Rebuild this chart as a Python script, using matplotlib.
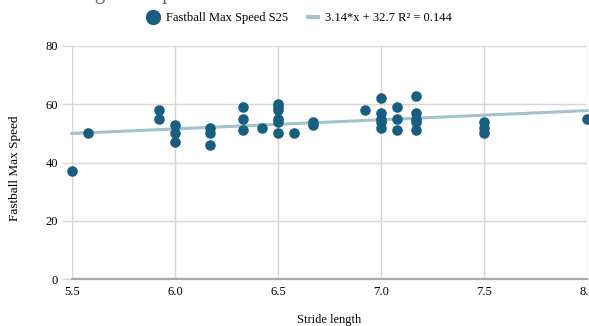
import matplotlib.pyplot as plt
from matplotlib.lines import Line2D
import numpy as np

plt.rcParams['font.family'] = ['Liberation Serif', 'DejaVu Serif']

# stride length (ft) and fastball max speed (mph)
stride = [5.5, 5.58, 5.92, 5.92, 6.0, 6.0, 6.0,
          6.17, 6.17, 6.17, 6.33, 6.33, 6.33, 6.42,
          6.5, 6.5, 6.5, 6.5, 6.5, 6.5, 6.58, 6.67, 6.67,
          6.92, 7.0, 7.0, 7.0, 7.0, 7.0,
          7.08, 7.08, 7.08, 7.17, 7.17, 7.17, 7.17, 7.17,
          7.5, 7.5, 7.5, 8.0]
speed = [37, 50, 58, 55, 53, 50, 47,
         52, 50, 46, 59, 55, 51, 52,
         60, 59, 58, 55, 54, 50, 50, 54, 53,
         58, 62, 57, 55, 54, 52,
         59, 55, 51, 63, 57, 55, 54, 51,
         54, 52, 50, 55]

slope, intercept = 3.14, 32.7
r2 = 0.144

DOT = '#185e80'
TREND = '#a3c1cf'

fig = plt.figure(figsize=(5.89, 3.26), dpi=100)
ax = fig.add_axes([72 / 589, 47 / 326, 515 / 589, 233 / 326])

xs = np.array([5.5, 8.0])
ax.plot(xs, slope * xs + intercept, color=TREND, lw=2.2, zorder=2, clip_on=False)
ax.scatter(stride, speed, s=58, color=DOT, zorder=3, clip_on=False, linewidths=0)

ax.set_xlim(5.5, 8.0)
ax.set_ylim(0, 80)
ax.set_xticks([5.5, 6.0, 6.5, 7.0, 7.5, 8.0])
ax.set_xticklabels(['5.5', '6.0', '6.5', '7.0', '7.5', '8.0'])
ax.set_yticks([0, 20, 40, 60, 80])

ax.grid(True, color='#d6d6d6', lw=1)
ax.set_axisbelow(True)
for side in ['top', 'right', 'left']:
    ax.spines[side].set_visible(False)
ax.spines['bottom'].set_color('#ababab')
ax.spines['bottom'].set_linewidth(1.6)

ax.tick_params(axis='y', length=7, color='#d6d6d6', width=1, labelsize=9, pad=3)
ax.tick_params(axis='x', length=0, labelsize=9, pad=5)

fig.text(15 / 589, (326 - 168) / 326, 'Fastball Max Speed', rotation=90,
         ha='center', va='center', fontsize=9.5)
fig.text(329.5 / 589, 6 / 326, 'Stride length', ha='center', va='center', fontsize=9)

# title sits above the visible area, only its descenders peek in
fig.text(14 / 589, 1.0 + 1 / 326, 'Stride length vs Speed', ha='left', va='baseline',
         fontsize=15, color='#666666')

handles = [
    Line2D([], [], marker='o', ls='none', color=DOT, markersize=10),
    Line2D([], [], color=TREND, lw=3),
]
labels = ['Fastball Max Speed S25', f'{slope}*x + {intercept} R² = {r2}']
fig.legend(handles, labels, loc='center', bbox_to_anchor=(300 / 589, 1 - 18 / 326),
           ncol=2, frameon=False, fontsize=9, handlelength=0.8, columnspacing=1.6,
           handletextpad=0.6)

fig.savefig('out.png', dpi=100)
